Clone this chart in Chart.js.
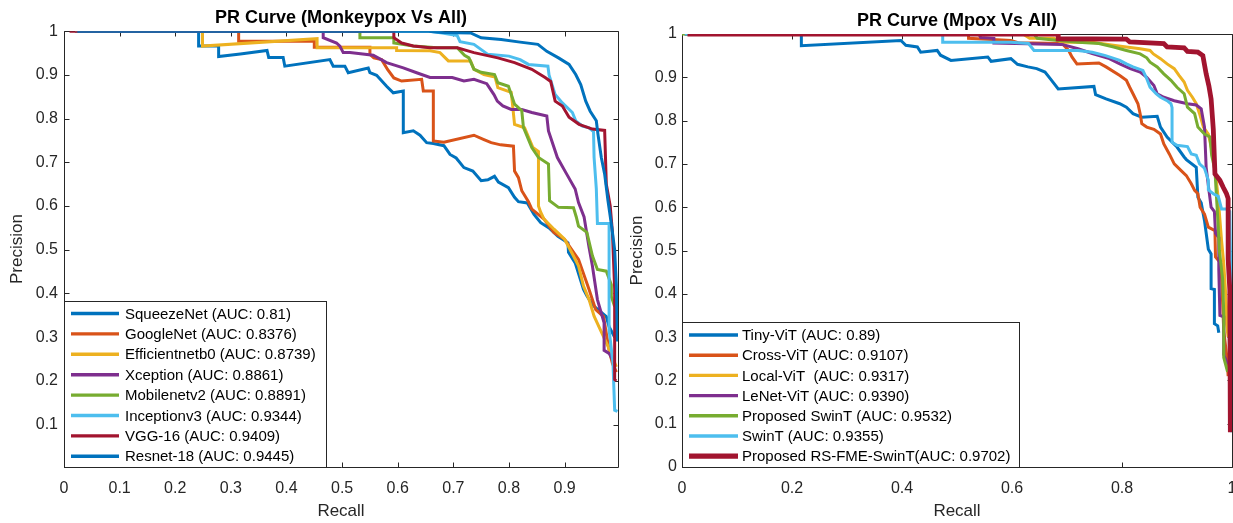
<!DOCTYPE html>
<html>
<head>
<meta charset="utf-8">
<script src="https://cdn.jsdelivr.net/npm/chart.js@4.4.1/dist/chart.umd.min.js"></script>
<style>
  html, body { margin: 0; padding: 0; background: #fff; overflow: hidden; width: 1233px; height: 523px; }
  #left { position: absolute; left: 0; top: 0; }
  #right { position: absolute; left: 620px; top: 0; }
</style>
</head>
<body>
<canvas id="left" width="620" height="523"></canvas>
<canvas id="right" width="630" height="523"></canvas>
<script>
// ---- left panel: Monkeypox vs All (recall, precision) ----
const leftLabels = ['SqueezeNet (AUC: 0.81)', 'GoogleNet (AUC: 0.8376)', 'Efficientnetb0 (AUC: 0.8739)',
  'Xception (AUC: 0.8861)', 'Mobilenetv2 (AUC: 0.8891)', 'Inceptionv3 (AUC: 0.9344)',
  'VGG-16 (AUC: 0.9409)', 'Resnet-18 (AUC: 0.9445)'];

const squeezeNet = [[0.02,1],[0.242,1],[0.242,0.966],[0.278,0.966],[0.278,0.942],[0.317,0.948],[0.365,0.956],[0.368,0.94],[0.394,0.94],[0.397,0.92],[0.478,0.935],[0.484,0.92],[0.505,0.92],[0.511,0.905],[0.547,0.916],[0.55,0.905],[0.562,0.899],[0.58,0.874],[0.592,0.859],[0.61,0.863],[0.61,0.768],[0.628,0.772],[0.64,0.762],[0.652,0.745],[0.664,0.743],[0.683,0.738],[0.694,0.718],[0.705,0.71],[0.719,0.688],[0.735,0.68],[0.75,0.658],[0.762,0.66],[0.774,0.668],[0.781,0.655],[0.799,0.642],[0.81,0.62],[0.817,0.61],[0.833,0.607],[0.845,0.581],[0.857,0.562],[0.872,0.55],[0.888,0.531],[0.906,0.516],[0.907,0.494],[0.919,0.47],[0.934,0.409],[0.94,0.395],[0.95,0.374],[0.975,0.347],[0.98,0.324],[0.99,0.30]];
const googleNet = [[0.02,1],[0.314,1],[0.314,0.977],[0.45,0.977],[0.45,0.963],[0.55,0.963],[0.55,0.947],[0.557,0.939],[0.571,0.935],[0.582,0.912],[0.593,0.893],[0.607,0.886],[0.643,0.89],[0.646,0.863],[0.664,0.863],[0.664,0.749],[0.683,0.746],[0.737,0.762],[0.755,0.752],[0.768,0.745],[0.785,0.74],[0.808,0.737],[0.81,0.68],[0.817,0.665],[0.823,0.635],[0.835,0.61],[0.841,0.593],[0.863,0.57],[0.881,0.539],[0.9,0.524],[0.925,0.478],[0.944,0.409],[0.956,0.363],[0.97,0.347],[0.98,0.27],[0.986,0.24],[0.993,0.22]];
const efficientNet = [[0.02,1],[0.249,1],[0.249,0.966],[0.455,0.983],[0.455,0.962],[0.598,0.962],[0.598,0.956],[0.658,0.955],[0.676,0.951],[0.691,0.932],[0.731,0.932],[0.737,0.913],[0.755,0.901],[0.775,0.895],[0.78,0.871],[0.804,0.86],[0.806,0.837],[0.81,0.787],[0.828,0.779],[0.843,0.734],[0.853,0.725],[0.853,0.6],[0.857,0.586],[0.863,0.57],[0.881,0.547],[0.9,0.524],[0.913,0.493],[0.925,0.463],[0.934,0.417],[0.944,0.386],[0.953,0.348],[0.978,0.279],[0.993,0.232]];
const xception = [[0.02,1],[0.466,1],[0.466,0.985],[0.49,0.973],[0.496,0.966],[0.502,0.951],[0.514,0.951],[0.556,0.945],[0.58,0.928],[0.61,0.916],[0.634,0.905],[0.658,0.894],[0.698,0.894],[0.719,0.886],[0.737,0.89],[0.76,0.88],[0.773,0.855],[0.779,0.84],[0.789,0.829],[0.804,0.821],[0.823,0.821],[0.841,0.814],[0.868,0.806],[0.871,0.772],[0.887,0.711],[0.902,0.677],[0.919,0.639],[0.925,0.608],[0.935,0.575],[0.944,0.505],[0.95,0.463],[0.959,0.386],[0.971,0.333],[0.971,0.27],[0.98,0.263],[0.99,0.24]];
const mobileNet = [[0.02,1],[0.532,1],[0.532,0.985],[0.593,0.985],[0.593,0.973],[0.628,0.966],[0.671,0.962],[0.707,0.962],[0.72,0.945],[0.728,0.939],[0.737,0.913],[0.75,0.906],[0.774,0.901],[0.78,0.882],[0.799,0.874],[0.804,0.856],[0.81,0.833],[0.823,0.818],[0.826,0.78],[0.841,0.734],[0.853,0.711],[0.871,0.696],[0.873,0.612],[0.889,0.597],[0.916,0.596],[0.921,0.575],[0.925,0.554],[0.94,0.54],[0.95,0.486],[0.959,0.455],[0.975,0.451],[0.984,0.42],[0.984,0.393],[0.99,0.37]];
const inception = [[0.02,1],[0.657,1],[0.68,0.996],[0.707,0.99],[0.712,0.976],[0.737,0.97],[0.762,0.947],[0.8,0.943],[0.82,0.935],[0.835,0.924],[0.87,0.92],[0.872,0.9],[0.883,0.855],[0.896,0.836],[0.914,0.814],[0.92,0.795],[0.932,0.783],[0.944,0.779],[0.952,0.77],[0.953,0.711],[0.957,0.64],[0.959,0.56],[0.98,0.56],[0.98,0.317],[0.987,0.24],[0.99,0.133],[0.995,0.13]];
const vgg16 = [[0.01,1],[0.593,1],[0.593,0.985],[0.607,0.973],[0.628,0.966],[0.658,0.962],[0.707,0.962],[0.737,0.951],[0.78,0.939],[0.81,0.928],[0.841,0.913],[0.865,0.894],[0.875,0.885],[0.883,0.84],[0.896,0.829],[0.908,0.803],[0.926,0.787],[0.95,0.776],[0.972,0.773],[0.975,0.65],[0.982,0.6],[0.986,0.54],[0.99,0.41],[0.99,0.203],[0.993,0.2]];
const resnet18 = [[0.024,1],[0.655,1],[0.68,0.997],[0.731,0.996],[0.75,0.985],[0.786,0.981],[0.82,0.975],[0.852,0.97],[0.868,0.954],[0.889,0.939],[0.908,0.924],[0.92,0.901],[0.929,0.878],[0.938,0.84],[0.946,0.817],[0.957,0.795],[0.96,0.764],[0.966,0.711],[0.972,0.673],[0.978,0.612],[0.985,0.55],[0.99,0.5],[0.993,0.42],[0.995,0.29]];

const leftXTicks = [0, 0.1, 0.2, 0.3, 0.4, 0.5, 0.6, 0.7, 0.8, 0.9];
const leftYTicks = [0.1, 0.2, 0.3, 0.4, 0.5, 0.6, 0.7, 0.8, 0.9, 1];

// ---- right panel: Mpox vs All ----
const rightLabels = ['Tiny-ViT (AUC: 0.89)', 'Cross-ViT (AUC: 0.9107)', 'Local-ViT  (AUC: 0.9317)',
  'LeNet-ViT (AUC: 0.9390)', 'Proposed SwinT (AUC: 0.9532)', 'SwinT (AUC: 0.9355)',
  'Proposed RS-FME-SwinT(AUC: 0.9702)'];

const tinyVit = [[0.005,1],[0.217,1],[0.217,0.973],[0.398,0.985],[0.407,0.974],[0.428,0.97],[0.434,0.958],[0.464,0.962],[0.47,0.951],[0.489,0.939],[0.556,0.947],[0.562,0.937],[0.598,0.943],[0.61,0.93],[0.629,0.924],[0.645,0.92],[0.66,0.912],[0.672,0.893],[0.684,0.873],[0.749,0.879],[0.752,0.86],[0.771,0.85],[0.796,0.839],[0.808,0.831],[0.82,0.816],[0.836,0.808],[0.864,0.81],[0.87,0.785],[0.882,0.762],[0.9,0.739],[0.913,0.716],[0.917,0.71],[0.935,0.692],[0.938,0.623],[0.944,0.61],[0.95,0.569],[0.952,0.55],[0.957,0.503],[0.962,0.492],[0.962,0.412],[0.968,0.41],[0.968,0.331],[0.974,0.326],[0.976,0.31]];
const crossVit = [[0.005,1],[0.521,1],[0.521,0.99],[0.598,0.985],[0.611,0.98],[0.691,0.978],[0.703,0.962],[0.709,0.947],[0.718,0.931],[0.758,0.933],[0.771,0.924],[0.796,0.904],[0.808,0.893],[0.814,0.877],[0.82,0.862],[0.829,0.839],[0.833,0.816],[0.836,0.793],[0.845,0.785],[0.858,0.78],[0.87,0.769],[0.876,0.746],[0.886,0.723],[0.895,0.7],[0.907,0.685],[0.917,0.673],[0.926,0.654],[0.932,0.639],[0.938,0.631],[0.942,0.6],[0.95,0.584],[0.957,0.554],[0.969,0.546],[0.97,0.485],[0.98,0.47],[0.985,0.315],[0.991,0.25],[0.993,0.21]];
const localVit = [[0.005,1],[0.62,1],[0.632,0.99],[0.676,0.99],[0.69,0.981],[0.746,0.981],[0.784,0.974],[0.808,0.97],[0.833,0.966],[0.851,0.962],[0.857,0.954],[0.87,0.943],[0.882,0.931],[0.895,0.92],[0.904,0.904],[0.913,0.889],[0.919,0.87],[0.928,0.854],[0.935,0.839],[0.941,0.816],[0.948,0.785],[0.957,0.769],[0.962,0.74],[0.969,0.692],[0.975,0.62],[0.981,0.523],[0.985,0.47],[0.99,0.37],[0.99,0.33],[0.993,0.3]];
const leNetVit = [[0.005,1],[0.54,1],[0.543,0.992],[0.567,0.99],[0.567,0.979],[0.691,0.976],[0.72,0.966],[0.746,0.955],[0.777,0.943],[0.796,0.931],[0.815,0.92],[0.833,0.912],[0.845,0.9],[0.858,0.881],[0.864,0.862],[0.876,0.854],[0.895,0.846],[0.919,0.839],[0.935,0.836],[0.944,0.827],[0.95,0.785],[0.953,0.692],[0.958,0.64],[0.962,0.6],[0.968,0.59],[0.97,0.54],[0.976,0.53],[0.976,0.456],[0.978,0.35],[0.985,0.347],[0.985,0.26],[0.991,0.24],[0.993,0.24]];
const proposedSwin = [[0,1],[0.64,1],[0.646,0.99],[0.684,0.985],[0.72,0.981],[0.758,0.978],[0.785,0.97],[0.808,0.962],[0.833,0.954],[0.845,0.945],[0.851,0.935],[0.864,0.924],[0.876,0.908],[0.889,0.893],[0.9,0.877],[0.913,0.862],[0.919,0.831],[0.932,0.816],[0.938,0.785],[0.95,0.769],[0.96,0.762],[0.963,0.72],[0.969,0.685],[0.972,0.62],[0.975,0.554],[0.977,0.5],[0.983,0.434],[0.985,0.355],[0.985,0.253],[0.992,0.22]];
const swinT = [[0.005,1],[0.474,1],[0.474,0.981],[0.598,0.981],[0.63,0.978],[0.64,0.962],[0.72,0.962],[0.746,0.958],[0.77,0.95],[0.796,0.939],[0.808,0.931],[0.82,0.924],[0.838,0.916],[0.845,0.897],[0.851,0.877],[0.862,0.862],[0.87,0.854],[0.882,0.846],[0.889,0.839],[0.891,0.83],[0.891,0.75],[0.9,0.743],[0.919,0.74],[0.926,0.723],[0.935,0.72],[0.941,0.7],[0.95,0.69],[0.957,0.662],[0.957,0.64],[0.966,0.631],[0.975,0.625],[0.981,0.596],[0.99,0.596],[0.996,0.59],[0.998,0.43],[0.999,0.08]];
const rsFmeSwin = [[0.01,1],[0.684,1],[0.684,0.989],[0.808,0.988],[0.814,0.982],[0.876,0.978],[0.882,0.97],[0.913,0.968],[0.919,0.96],[0.938,0.958],[0.947,0.95],[0.953,0.908],[0.958,0.88],[0.962,0.85],[0.966,0.78],[0.969,0.677],[0.978,0.662],[0.984,0.646],[0.99,0.631],[0.993,0.62],[0.993,0.48],[0.996,0.41],[0.997,0.08]];

const rightXTicks = [0, 0.2, 0.4, 0.6, 0.8, 1];
const rightYTicks = [0, 0.1, 0.2, 0.3, 0.4, 0.5, 0.6, 0.7, 0.8, 0.9, 1];

// matlab default line colours
const matlab = ['#0072BD', '#D95319', '#EDB120', '#7E2F8E', '#77AC30', '#4DBEEE', '#A2142F'];
const FONT = 'Arial, "Liberation Sans", Helvetica, sans-serif';
const AXIS = '#262626';

Chart.defaults.font.family = FONT;
Chart.defaults.color = AXIS;

function makeDatasets(labels, series, colors, widths) {
  return series.map((pts, i) => ({
    label: labels[i],
    data: pts.map(([x, y]) => ({ x, y })),
    borderColor: colors[i],
    backgroundColor: colors[i],
    borderWidth: widths[i],
    pointRadius: 0,
    pointHoverRadius: 0,
    showLine: true,
    tension: 0,
    fill: false,
    order: series.length - i   // later series on top, like matlab
  }));
}

// box round the axes with inward ticks on all four sides
const frame = {
  id: 'frame',
  beforeDatasetsDraw(chart) {
    const { ctx, chartArea: a, scales: { x, y } } = chart;
    const L = Math.round(a.left) + 0.5, R = Math.round(a.right) + 0.5;
    const T = Math.round(a.top) + 0.5, B = Math.round(a.bottom) + 0.5;
    ctx.save();
    ctx.strokeStyle = AXIS;
    ctx.lineWidth = 1;
    ctx.beginPath();
    ctx.rect(L, T, R - L, B - T);
    x.ticks.forEach(t => {
      const px = Math.round(x.getPixelForValue(t.value)) + 0.5;
      ctx.moveTo(px, B); ctx.lineTo(px, B - 5);
      ctx.moveTo(px, T); ctx.lineTo(px, T + 5);
    });
    y.ticks.forEach(t => {
      const py = Math.round(y.getPixelForValue(t.value)) + 0.5;
      ctx.moveTo(L, py); ctx.lineTo(L + 5, py);
      ctx.moveTo(R, py); ctx.lineTo(R - 5, py);
    });
    ctx.stroke();
    ctx.restore();
  }
};

// matlab style legend box in the lower left corner
const boxLegend = {
  id: 'boxLegend',
  afterDraw(chart, args, o) {
    const { ctx } = chart;
    ctx.save();
    ctx.fillStyle = '#fff';
    ctx.fillRect(o.left, o.top, o.width, o.height);
    ctx.strokeStyle = AXIS;
    ctx.lineWidth = 1;
    ctx.strokeRect(o.left + 0.5, o.top + 0.5, o.width, o.height);
    ctx.font = '15px ' + FONT;
    ctx.textBaseline = 'middle';
    ctx.textAlign = 'left';
    chart.data.datasets.forEach((ds, i) => {
      const yy = o.rowTop + i * o.rowStep;
      ctx.strokeStyle = ds.borderColor;
      ctx.lineWidth = ds.borderWidth + 0.4;
      ctx.beginPath();
      ctx.moveTo(o.lineX0, yy);
      ctx.lineTo(o.lineX1, yy);
      ctx.stroke();
      ctx.fillStyle = '#000';
      ctx.fillText(ds.label, o.textX, yy + 1);
    });
    ctx.restore();
  }
};

function buildConfig(p) {
  return {
    type: 'scatter',
    data: { datasets: makeDatasets(p.labels, p.series, p.colors, p.widths) },
    options: {
      responsive: false,
      devicePixelRatio: 1,
      animation: false,
      events: [],
      layout: { padding: { left: 0, top: 0, right: p.padRight, bottom: 0 } },
      plugins: {
        legend: { display: false },
        tooltip: { enabled: false },
        title: {
          display: true,
          text: p.title,
          color: '#000',
          fullSize: false,
          font: { size: 18, weight: 'bold' },
          padding: { top: p.titleTop, bottom: p.titleBottom }
        },
        boxLegend: p.legend
      },
      scales: {
        x: {
          type: 'linear',
          min: p.xMin, max: p.xMax,
          grid: { display: false, drawTicks: false },
          border: { display: false },
          afterBuildTicks(s) { s.ticks = p.xTicks.map(v => ({ value: v })); },
          afterFit(s) { s.height = p.xHeight; },
          ticks: {
            padding: 12,
            font: { size: 16 },
            color: AXIS,
            maxRotation: 0,
            callback: v => String(+Number(v).toFixed(2))
          },
          title: { display: true, text: 'Recall', font: { size: 17 }, color: AXIS, padding: { top: 0, bottom: 1 } }
        },
        y: {
          type: 'linear',
          min: p.yMin, max: p.yMax,
          grid: { display: false, drawTicks: false },
          border: { display: false },
          afterBuildTicks(s) { s.ticks = p.yTicks.map(v => ({ value: v })); },
          afterFit(s) { s.width = p.yWidth; },
          ticks: {
            padding: p.yPad,
            font: { size: 16 },
            color: AXIS,
            callback: v => String(+Number(v).toFixed(2))
          },
          title: { display: true, text: 'Precision', font: { size: 17 }, color: AXIS, padding: { top: 7, bottom: 0 } }
        }
      }
    },
    plugins: [frame, boxLegend]
  };
}

new Chart(document.getElementById('left'), buildConfig({
  title: 'PR Curve (Monkeypox Vs All)',
  labels: leftLabels,
  series: [squeezeNet, googleNet, efficientNet, xception, mobileNet, inception, vgg16, resnet18],
  colors: [...matlab, '#0072BD'],
  widths: [3, 3, 3, 3, 3, 3, 3, 3],
  xMin: 0, xMax: 0.996, yMin: 0.003, yMax: 1,
  xTicks: leftXTicks, yTicks: leftYTicks,
  padRight: 2, titleTop: 7, titleBottom: 2.6,
  yWidth: 64, xHeight: 56, yPad: 6,
  legend: { left: 64, top: 301, width: 262, height: 166, rowTop: 313.5, rowStep: 20.4, lineX0: 71, lineX1: 119, textX: 125 }
}));

new Chart(document.getElementById('right'), buildConfig({
  title: 'PR Curve (Mpox Vs All)',
  labels: rightLabels,
  series: [tinyVit, crossVit, localVit, leNetVit, proposedSwin, swinT, rsFmeSwin],
  colors: matlab,
  widths: [3, 3, 3, 3, 3, 3, 4.8],
  xMin: 0, xMax: 1, yMin: 0, yMax: 1,
  xTicks: rightXTicks, yTicks: rightYTicks,
  padRight: 18, titleTop: 10, titleBottom: 2.4,
  yWidth: 62, xHeight: 56, yPad: 5,
  legend: { left: 62, top: 322, width: 337, height: 145, rowTop: 335, rowStep: 20.2, lineX0: 69, lineX1: 118, textX: 122 }
}));
</script>
</body>
</html>
